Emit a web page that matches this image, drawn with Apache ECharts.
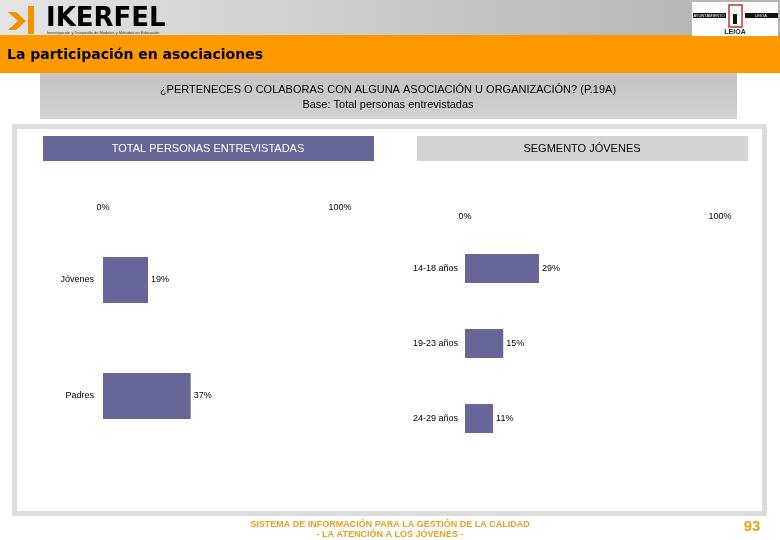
<!DOCTYPE html>
<html>
<head>
<meta charset="utf-8">
<script src="https://cdn.jsdelivr.net/npm/echarts@6/dist/echarts.min.js"></script>
<style>
html,body{margin:0;padding:0;background:#fff;}
#chart{width:780px;height:540px;}
</style>
</head>
<body>
<div id="chart"></div>
<script>
// ---- Data ----
const totalCategories = ['Jóvenes', 'Padres'];
const totalValues = [19, 37];
const youthCategories = ['14-18 años', '19-23 años', '24-29 años'];
const youthValues = [29, 15, 11];
const axisTicks = [0, 100];

const pageTitle = 'La participación en asociaciones';
const questionText = '¿PERTENECES O COLABORAS CON ALGUNA ASOCIACIÓN U ORGANIZACIÓN? (P.19A)';
const baseText = 'Base: Total personas entrevistadas';
const leftTitle = 'TOTAL PERSONAS ENTREVISTADAS';
const rightTitle = 'SEGMENTO JÓVENES';
const footer1 = 'SISTEMA DE INFORMACIÓN PARA LA GESTIÓN DE LA CALIDAD';
const footer2 = '- LA ATENCIÓN A LOS JÓVENES -';
const pageNumber = '93';

const FONT = 'Liberation Sans, Arial, sans-serif';
const BAR = '#666699';

const chart = echarts.init(document.getElementById('chart'));

function xAx(gridIndex) {
  return {
    gridIndex, type: 'value', position: 'top',
    min: axisTicks[0], max: axisTicks[1], interval: axisTicks[1] - axisTicks[0],
    axisLine: {show: false}, axisTick: {show: false}, splitLine: {show: false},
    axisLabel: {formatter: '{value}%', fontFamily: FONT, fontSize: 9, color: '#000', margin: 10}
  };
}
function yAx(gridIndex, data, margin) {
  return {
    gridIndex, type: 'category', data, inverse: true,
    axisLine: {show: false}, axisTick: {show: false}, splitLine: {show: false},
    axisLabel: {fontFamily: FONT, fontSize: 9, color: '#000', margin}
  };
}
function valLabel() {
  return {show: true, position: 'right', distance: 3, formatter: '{c}%',
    fontFamily: FONT, fontSize: 9, color: '#000'};
}

const option = {
  animation: false,
  backgroundColor: '#ffffff',
  grid: [
    {left: 103, right: 440, top: 222, height: 232},
    {left: 465, right: 60, top: 231, height: 225}
  ],
  xAxis: [xAx(0), xAx(1)],
  yAxis: [yAx(0, totalCategories, 9), yAx(1, youthCategories, 7)],
  series: [
    {type: 'bar', xAxisIndex: 0, yAxisIndex: 0, data: totalValues, barWidth: 46,
      itemStyle: {color: BAR}, label: valLabel(), z: 5},
    {type: 'bar', xAxisIndex: 1, yAxisIndex: 1, data: youthValues, barWidth: 29,
      itemStyle: {color: BAR}, label: valLabel(), z: 5}
  ],
  graphic: [
    // header gradient
    {type: 'rect', z: -10, shape: {x: 0, y: 0, width: 780, height: 36},
      style: {fill: new echarts.graphic.LinearGradient(0, 0, 1, 0, [
        {offset: 0, color: '#e4e4e4'}, {offset: 0.6, color: '#c4c4c4'}, {offset: 1, color: '#b2b2b2'}])}},
    // orange band
    {type: 'rect', z: -9, shape: {x: 0, y: 35, width: 780, height: 38}, style: {fill: '#ff9900'}},
    {type: 'text', z: 10, x: 7, y: 55, style: {text: pageTitle, fill: '#000', font: 'bold 14px DejaVu Sans', verticalAlign: 'middle'}},
    // left logo
    {type: 'polygon', z: 10, shape: {points: [[8,12],[16,12],[26,21],[16,30],[8,30],[18,21]]}, style: {fill: '#f39200'}},
    {type: 'rect', z: 10, shape: {x: 28, y: 6, width: 6, height: 28}, style: {fill: '#f39200'}},
    {type: 'text', z: 10, x: 46, y: 19, style: {text: 'IKERFEL', fill: '#000', font: 'bold 26px DejaVu Sans', verticalAlign: 'middle'}},
    {type: 'text', z: 10, x: 47, y: 33, style: {text: 'Investigación y Desarrollo de Modelos y Métodos en Educación', fill: '#333', font: '4px ' + FONT, verticalAlign: 'middle'}},
    // right logo
    {type: 'rect', z: 10, shape: {x: 692, y: 2, width: 86, height: 34}, style: {fill: '#ffffff'}},
    {type: 'rect', z: 10, shape: {x: 693, y: 13, width: 33, height: 5}, style: {fill: '#111'}},
    {type: 'rect', z: 10, shape: {x: 745, y: 13, width: 33, height: 5}, style: {fill: '#111'}},
    {type: 'text', z: 11, x: 709, y: 15.5, style: {text: 'AYUNTAMIENTO', fill: '#fff', font: '4px ' + FONT, align: 'center', verticalAlign: 'middle'}},
    {type: 'text', z: 11, x: 761, y: 15.5, style: {text: 'LEIOA', fill: '#fff', font: '4px ' + FONT, align: 'center', verticalAlign: 'middle'}},
    {type: 'rect', z: 10, shape: {x: 729, y: 5, width: 13, height: 22}, style: {fill: 'none', stroke: '#c0392b', lineWidth: 1.5}},
    {type: 'rect', z: 10, shape: {x: 733, y: 14, width: 4, height: 10}, style: {fill: '#111'}},
    {type: 'text', z: 10, x: 735, y: 32, style: {text: 'LEIOA', fill: '#222', font: 'bold 7px ' + FONT, align: 'center', verticalAlign: 'middle'}},
    // question box
    {type: 'rect', z: -8, shape: {x: 40, y: 73, width: 697, height: 46},
      style: {fill: new echarts.graphic.LinearGradient(0, 0, 0, 1, [
        {offset: 0, color: '#c2c2c2'}, {offset: 1, color: '#d2d2d2'}])}},
    {type: 'text', z: 10, x: 388, y: 90, style: {text: questionText, fill: '#000', font: '11px ' + FONT, align: 'center', verticalAlign: 'middle'}},
    {type: 'text', z: 10, x: 388, y: 105, style: {text: baseText, fill: '#000', font: '11px ' + FONT, align: 'center', verticalAlign: 'middle'}},
    // main frame
    {type: 'rect', z: -8, shape: {x: 14.5, y: 126.5, width: 750, height: 387}, style: {fill: '#fff', stroke: '#dcdcdc', lineWidth: 5}},
    // panel title bars
    {type: 'rect', z: -7, shape: {x: 43, y: 136, width: 331, height: 25}, style: {fill: BAR}},
    {type: 'text', z: 10, x: 208, y: 149, style: {text: leftTitle, fill: '#fff', font: '11px ' + FONT, align: 'center', verticalAlign: 'middle'}},
    {type: 'rect', z: -7, shape: {x: 417, y: 136, width: 331, height: 25}, style: {fill: '#d4d4d4'}},
    {type: 'text', z: 10, x: 582, y: 149, style: {text: rightTitle, fill: '#000', font: '11px ' + FONT, align: 'center', verticalAlign: 'middle'}},
    // footer
    {type: 'text', z: 10, x: 390, y: 525, style: {text: footer1, fill: '#e8a020', font: 'bold 9px ' + FONT, align: 'center', verticalAlign: 'middle'}},
    {type: 'text', z: 10, x: 390, y: 535, style: {text: footer2, fill: '#e8a020', font: 'bold 9px ' + FONT, align: 'center', verticalAlign: 'middle'}},
    {type: 'text', z: 10, x: 752, y: 527, style: {text: pageNumber, fill: '#e8a020', font: 'bold 15px ' + FONT, align: 'center', verticalAlign: 'middle'}}
  ]
};
chart.setOption(option);
</script>
</body>
</html>
